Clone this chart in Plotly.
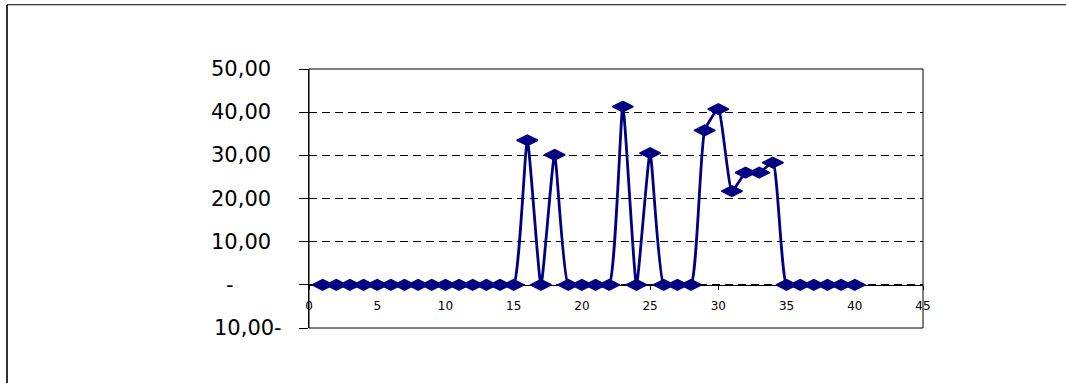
import plotly.graph_objects as go

# Measurement series (x = sample number, y = measured value)
x_values = list(range(1, 41))
y_values = [
    0, 0, 0, 0, 0, 0, 0, 0, 0, 0,
    0, 0, 0, 0, 0, 33.5, 0, 30.1, 0, 0,
    0, 0, 41.3, 0, 30.5, 0, 0, 0, 35.8, 40.7,
    21.7, 26.0, 26.0, 28.3, 0, 0, 0, 0, 0, 0,
]

# Axis ticks and their printed labels (accounting-style number format)
y_tick_values = [50, 40, 30, 20, 10, 0, -10]
y_tick_labels = ["50,00", "40,00", "30,00", "20,00", "10,00", "-", "10,00-"]
x_tick_values = [0, 5, 10, 15, 20, 25, 30, 35, 40, 45]

NAVY = "#000080"
FONT = "DejaVu Sans"

fig = go.Figure()

fig.add_trace(go.Scatter(
    x=x_values,
    y=y_values,
    mode="lines+markers",
    line=dict(color=NAVY, width=2.8, shape="spline", smoothing=0.45),
    marker=dict(symbol="diamond-wide", size=15, color=NAVY,
                line=dict(color=NAVY, width=1.5)),
    showlegend=False,
    cliponaxis=False,
))

# Y labels drawn as annotations so the dash and the trailing minus sit
# the way the accounting format lays them out
W = 614.0  # plot width in px
for v, lab in zip(y_tick_values, y_tick_labels):
    if lab == "-":
        xa, anchor = (230 - 309) / W, "center"
    elif lab.endswith("-"):
        xa, anchor = (284 - 309) / W, "right"
    else:
        xa, anchor = (273 - 309) / W, "right"
    fig.add_annotation(
        x=xa, xref="paper", y=v, yref="y",
        text=lab, showarrow=False, xanchor=anchor, yanchor="middle",
        font=dict(family=FONT, size=21, color="black"),
    )

shapes = [
    # plot-area frame
    dict(type="rect", xref="paper", yref="paper", x0=0, x1=1, y0=0, y1=1,
         line=dict(color="black", width=1), layer="above"),
    # outer chart frame (left and top edges)
    dict(type="line", xref="paper", yref="paper",
         x0=(7 - 309) / W, x1=(7 - 309) / W, y0=-0.3, y1=(327 - 5) / 258.0,
         line=dict(color="#333333", width=2)),
    dict(type="line", xref="paper", yref="paper",
         x0=(7 - 309) / W, x1=1.3, y0=(327 - 5) / 258.0, y1=(327 - 5) / 258.0,
         line=dict(color="black", width=1)),
]

fig.update_layout(
    width=1066,
    height=383,
    margin=dict(l=309, r=143, t=69, b=55),
    paper_bgcolor="white",
    plot_bgcolor="white",
    shapes=shapes,
    xaxis=dict(
        range=[0, 45],
        tickvals=x_tick_values,
        ticktext=[str(v) for v in x_tick_values],
        anchor="free",
        position=10 / 60,
        showline=True, linecolor="black", linewidth=1,
        ticks="outside", ticklen=4, tickcolor="black",
        tickfont=dict(family=FONT, size=12, color="black"),
        ticklabelstandoff=6,
        showgrid=False, zeroline=False,
        layer="below traces",
    ),
    yaxis=dict(
        range=[-10, 50],
        tickvals=y_tick_values,
        showticklabels=False,
        showline=True, linecolor="black", linewidth=1,
        ticks="outside", ticklen=9, tickcolor="black",
        showgrid=True, gridcolor="black", gridwidth=1, griddash="8px,5px",
        zeroline=False,
        layer="below traces",
    ),
)

fig.write_html("out.html")
